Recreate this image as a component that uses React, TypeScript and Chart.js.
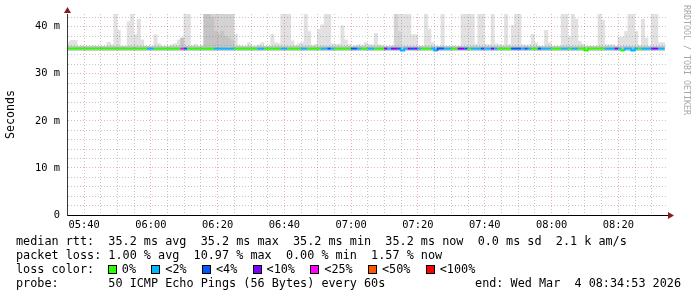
import React, { useEffect, useRef } from 'react';
import { Chart, registerables } from 'chart.js';

Chart.register(...registerables);

// ---- time range (minutes after midnight) ----
const START = 334 + 53 / 60; // 05:34:53
const SPAN = 180; // 3 hours, ends 08:34:53
const X_GRID_STEP = 5;
const TIME_LABELS = ['05:40', '06:00', '06:20', '06:40', '07:00', '07:20', '07:40', '08:00', '08:20'];

// ---- value axis (ms) ----
const Y_MAX = 42.7;
const Y_GRID_STEP = 2;
const Y_LABELS: Record<number, string> = { 0: '0', 10: '10 m', 20: '20 m', 30: '30 m', 40: '40 m' };

// ---- per-minute data ----
const SMOKE_FLOOR = 35.0;

const MEDIAN = [
  35.35, 35.35, 35.35, 35.35, 35.35, 35.35, 35.35, 35.35, 35.35, 35.35,
  35.35, 35.35, 35.35, 35.35, 35.35, 35.35, 35.35, 35.35, 35.35, 35.35,
  35.35, 35.35, 35.35, 35.35, 35.35, 35.35, 35.35, 35.35, 35.35, 35.35,
  35.35, 35.35, 35.35, 35.35, 35.35, 35.35, 35.35, 35.35, 35.35, 35.35,
  35.35, 35.35, 35.35, 35.35, 35.35, 35.35, 35.35, 35.35, 35.35, 35.35,
  35.35, 35.35, 35.35, 35.35, 35.35, 35.35, 35.35, 35.35, 35.35, 35.35,
  35.35, 35.35, 35.35, 35.35, 35.35, 35.35, 35.35, 35.35, 35.35, 35.35,
  35.35, 35.35, 35.35, 35.35, 35.35, 35.35, 35.35, 35.35, 35.35, 35.35,
  35.35, 35.35, 35.35, 35.35, 35.35, 35.35, 35.35, 35.35, 35.35, 35.35,
  35.35, 35.35, 35.35, 35.35, 35.35, 35.35, 35.35, 35.35, 35.35, 35.35,
  35.35, 34.95, 35.35, 35.35, 35.35, 35.35, 35.35, 35.35, 35.35, 35.35,
  35.35, 34.95, 35.35, 35.35, 35.35, 35.35, 35.35, 35.35, 35.35, 35.35,
  35.35, 35.35, 35.35, 35.35, 35.35, 35.35, 35.35, 35.35, 35.35, 35.35,
  35.35, 35.35, 35.35, 35.35, 35.35, 35.35, 35.35, 35.35, 35.35, 35.35,
  35.35, 35.35, 35.35, 35.35, 35.35, 35.35, 35.35, 35.35, 35.35, 35.35,
  35.35, 35.35, 35.35, 35.35, 35.35, 35.35, 34.95, 35.35, 35.35, 35.35,
  35.35, 35.35, 35.35, 35.35, 35.35, 35.35, 35.35, 34.95, 35.35, 35.35,
  34.95, 35.35, 35.35, 35.35, 35.35, 35.35, 35.35, 35.35, 35.35,
];

// loss class per minute: 0=0%, 1=<2%, 2=<4%, 3=<10%, 4=<25%, 5=<50%, 6=<100%
const LOSS = [
  0, 0, 0, 0, 0, 0, 0, 0, 0, 0,
  0, 0, 0, 0, 0, 0, 0, 0, 0, 0,
  0, 0, 0, 0, 1, 1, 0, 0, 0, 0,
  0, 0, 0, 0, 4, 2, 0, 0, 0, 0,
  0, 0, 0, 0, 1, 1, 1, 1, 1, 1,
  0, 0, 0, 0, 0, 0, 0, 1, 1, 0,
  0, 0, 0, 0, 1, 1, 0, 0, 0, 0,
  1, 1, 0, 0, 0, 0, 1, 1, 2, 1,
  0, 0, 0, 0, 0, 2, 2, 1, 0, 0,
  1, 1, 0, 0, 0, 3, 1, 3, 3, 2,
  1, 1, 3, 2, 3, 1, 0, 0, 0, 1,
  1, 2, 2, 1, 1, 0, 0, 3, 3, 2,
  0, 1, 1, 1, 2, 1, 1, 3, 1, 0,
  0, 0, 0, 2, 2, 2, 1, 2, 1, 0,
  0, 2, 1, 1, 1, 0, 0, 0, 1, 1,
  0, 1, 1, 0, 0, 0, 0, 0, 0, 0,
  0, 1, 1, 1, 3, 1, 0, 1, 1, 1,
  1, 0, 1, 1, 1, 3, 3, 1, 1,
];

// highest ping (top of the light smoke)
const SMOKE_MAX = [
  36.8, 37.1, 37.1, 35.8, 35.8, 35.8, 35.8, 35.8, 35.8, 35.8,
  35.8, 35.8, 36.7, 36.2, 43, 39.2, 35.8, 35.8, 41.1, 43,
  38.3, 41.6, 37.2, 35.8, 35.8, 35.8, 38.3, 36.4, 35.8, 35.8,
  35.8, 36.2, 36.4, 37.2, 37.6, 43, 43, 36.0, 36.3, 35.8,
  36.0, 43, 43, 43, 43, 43, 43, 43, 43, 43,
  38.4, 36.0, 35.8, 35.8, 36.6, 35.8, 35.8, 36.2, 36.6, 35.8,
  35.8, 38.4, 36.6, 36.4, 43, 43, 43, 37.0, 36.0, 36.4,
  36.6, 43, 39.0, 36.0, 36.2, 39.4, 40.4, 43, 43, 36.4,
  36.2, 36.3, 40.2, 37.2, 36.2, 35.8, 36.0, 36.2, 36.0, 36.6,
  36.2, 36.2, 38.6, 36.2, 36.0, 35.8, 35.8, 36.0, 43, 43,
  43, 43, 43, 38.3, 38.3, 35.8, 35.8, 43, 39.5, 36.6,
  35.8, 35.8, 43, 35.8, 35.8, 35.8, 35.8, 35.8, 43, 43,
  43, 43, 36.3, 43, 43, 36.2, 36.2, 43, 36.4, 36.2,
  36.0, 43, 36.2, 40.3, 43, 43, 36.2, 36.0, 36.2, 38.4,
  36.6, 35.8, 35.8, 39.2, 36.6, 35.8, 35.8, 35.8, 43, 43,
  37.8, 43, 41.6, 36.9, 36.3, 35.8, 35.8, 35.8, 35.8, 43,
  41.4, 36.2, 36.2, 36.2, 35.8, 37.8, 37.8, 39.0, 43, 43,
  39.0, 36.0, 41.6, 37.6, 35.8, 43, 43, 36.6, 36.6,
];

// middle shade of smoke
const SMOKE_MID = [
  35.8, 35.8, 35.8, 35.8, 35.8, 35.8, 35.8, 35.8, 35.8, 35.8,
  35.8, 35.8, 35.8, 35.8, 35.8, 35.8, 35.8, 35.8, 35.8, 35.8,
  35.8, 35.8, 35.8, 35.8, 35.8, 35.8, 35.8, 35.8, 35.8, 35.8,
  35.8, 35.8, 35.8, 35.8, 35.8, 35.8, 35.8, 35.8, 35.8, 35.8,
  35.8, 43, 43, 43, 43, 43, 43, 43, 43, 43,
  35.8, 35.8, 35.8, 35.8, 35.8, 35.8, 35.8, 35.8, 35.8, 35.8,
  35.8, 35.8, 35.8, 35.8, 35.8, 35.8, 35.8, 35.8, 35.8, 35.8,
  35.8, 35.8, 35.8, 35.8, 35.8, 35.8, 35.8, 35.8, 35.8, 35.8,
  35.8, 35.8, 35.8, 35.8, 35.8, 35.8, 35.8, 35.8, 35.8, 35.8,
  35.8, 35.8, 35.8, 35.8, 35.8, 35.8, 35.8, 35.8, 43, 39,
  35.8, 35.8, 35.8, 35.8, 35.8, 35.8, 35.8, 35.8, 35.8, 35.8,
  35.8, 35.8, 35.8, 35.8, 35.8, 35.8, 35.8, 35.8, 35.8, 35.8,
  35.8, 35.8, 35.8, 35.8, 35.8, 35.8, 35.8, 35.8, 35.8, 35.8,
  35.8, 35.8, 35.8, 35.8, 35.8, 35.8, 35.8, 35.8, 35.8, 35.8,
  35.8, 35.8, 35.8, 35.8, 35.8, 35.8, 35.8, 35.8, 35.8, 35.8,
  35.8, 35.8, 35.8, 35.8, 35.8, 35.8, 35.8, 35.8, 35.8, 35.8,
  35.8, 35.8, 35.8, 35.8, 35.8, 35.8, 35.8, 35.8, 35.8, 35.8,
  35.8, 35.8, 35.8, 35.8, 35.8, 35.8, 35.8, 35.8, 35.8,
];

// densest shade of smoke
const SMOKE_DENSE = [
  35.8, 35.8, 35.8, 35.8, 35.8, 35.8, 35.8, 35.8, 35.8, 35.8,
  35.8, 35.8, 35.8, 35.8, 35.8, 35.8, 35.8, 35.8, 35.8, 35.8,
  35.8, 35.8, 35.8, 35.8, 35.8, 35.8, 35.8, 35.8, 35.8, 35.8,
  35.8, 35.8, 35.8, 35.8, 37.6, 35.8, 35.8, 35.8, 35.8, 35.8,
  35.8, 43, 43, 42, 39, 38.5, 39, 38, 37.5, 37,
  35.8, 35.8, 35.8, 35.8, 35.8, 35.8, 35.8, 35.8, 35.8, 35.8,
  35.8, 35.8, 35.8, 35.8, 35.8, 35.8, 35.8, 35.8, 35.8, 35.8,
  35.8, 35.8, 35.8, 35.8, 35.8, 35.8, 35.8, 35.8, 35.8, 35.8,
  35.8, 35.8, 35.8, 35.8, 35.8, 35.8, 35.8, 35.8, 35.8, 35.8,
  35.8, 35.8, 35.8, 35.8, 35.8, 35.8, 35.8, 35.8, 35.8, 35.8,
  35.8, 35.8, 35.8, 35.8, 35.8, 35.8, 35.8, 35.8, 35.8, 35.8,
  35.8, 35.8, 35.8, 35.8, 35.8, 35.8, 35.8, 35.8, 35.8, 35.8,
  35.8, 35.8, 35.8, 35.8, 35.8, 35.8, 35.8, 35.8, 35.8, 35.8,
  35.8, 35.8, 35.8, 35.8, 35.8, 35.8, 35.8, 35.8, 35.8, 35.8,
  35.8, 35.8, 35.8, 35.8, 35.8, 35.8, 35.8, 35.8, 35.8, 35.8,
  35.8, 35.8, 35.8, 35.8, 35.8, 35.8, 35.8, 35.8, 35.8, 35.8,
  35.8, 35.8, 35.8, 35.8, 35.8, 35.8, 35.8, 35.8, 35.8, 35.8,
  35.8, 35.8, 35.8, 35.8, 35.8, 35.8, 35.8, 35.8, 35.8,
];

const LOSS_COLORS = ['#26ff00', '#00b8ff', '#0059ff', '#7e00ff', '#ff00ff', '#ff5500', '#ff0000'];
const LOSS_LABELS = ['0%', '<2%', '<4%', '<10%', '<25%', '<50%', '<100%'];

const STATS_RTT = 'median rtt:  35.2 ms avg  35.2 ms max  35.2 ms min  35.2 ms now  0.0 ms sd  2.1 k am/s';
const STATS_LOSS = 'packet loss: 1.00 % avg  10.97 % max  0.00 % min  1.57 % now';
const LOSS_TITLE = 'loss color:';
const PROBE_TEXT = 'probe:       50 ICMP Echo Pings (56 Bytes) every 60s';
const END_TEXT = 'end: Wed Mar  4 08:34:53 2026';
const WATERMARK = 'RRDTOOL / TOBI OETIKER';
const Y_TITLE = 'Seconds';

const MONO = '"DejaVu Sans Mono", monospace';
const MAJOR_GRID = 'rgba(225, 80, 80, 0.45)';
const MINOR_GRID = 'rgba(120, 120, 120, 0.42)';

function hhmm(v: number) {
  const m = Math.round(v);
  const h = Math.floor(m / 60);
  const mm = m % 60;
  return String(h).padStart(2, '0') + ':' + String(mm).padStart(2, '0');
}

const arrowPlugin = {
  id: 'rrdArrows',
  afterDraw(chart: any) {
    const { ctx, chartArea: a } = chart;
    ctx.save();
    ctx.fillStyle = '#8a1c1c';
    // y axis arrow
    ctx.beginPath();
    ctx.moveTo(a.left + 0.5, a.top - 7);
    ctx.lineTo(a.left - 3, a.top - 1);
    ctx.lineTo(a.left + 4, a.top - 1);
    ctx.closePath();
    ctx.fill();
    // x axis arrow
    ctx.beginPath();
    ctx.moveTo(a.right + 6, a.bottom + 0.5);
    ctx.lineTo(a.right, a.bottom - 3);
    ctx.lineTo(a.right, a.bottom + 4);
    ctx.closePath();
    ctx.fill();
    ctx.restore();
  },
};

export default function App() {
  const ref = useRef<HTMLCanvasElement>(null);

  useEffect(() => {
    const xTicks: number[] = [];
    for (let v = Math.ceil(START / X_GRID_STEP) * X_GRID_STEP; v < START + SPAN; v += X_GRID_STEP) xTicks.push(v);
    const yTicks: number[] = [];
    for (let v = 0; v < Y_MAX; v += Y_GRID_STEP) yTicks.push(v);

    const smoke = (arr: number[]) => arr.map((v, i) => ({ x: START + i + 0.5, y: [SMOKE_FLOOR, v] }));
    const linePts = MEDIAN.map((v, i) => ({ x: START + i, y: v }));
    linePts.push({ x: START + MEDIAN.length, y: MEDIAN[MEDIAN.length - 1] });

    const barCommon = {
      type: 'bar' as const,
      grouped: false,
      barPercentage: 1,
      categoryPercentage: 1,
      borderWidth: 0,
    };

    const chart = new Chart(ref.current as HTMLCanvasElement, {
      type: 'bar',
      data: {
        datasets: [
          { ...barCommon, label: 'smoke max', data: smoke(SMOKE_MAX) as any, backgroundColor: '#e1e1e1', order: 3 },
          { ...barCommon, label: 'smoke mid', data: smoke(SMOKE_MID) as any, backgroundColor: '#d3d3d3', order: 2 },
          { ...barCommon, label: 'smoke dense', data: smoke(SMOKE_DENSE) as any, backgroundColor: '#c4c4c4', order: 1 },
          {
            type: 'line' as const,
            label: 'median rtt',
            data: linePts as any,
            stepped: 'after',
            borderWidth: 2,
            pointRadius: 0,
            borderCapStyle: 'butt',
            borderColor: LOSS_COLORS[0],
            segment: {
              borderColor: (ctx: any) => LOSS_COLORS[LOSS[Math.min(ctx.p0DataIndex, LOSS.length - 1)]],
            },
            order: 0,
          } as any,
        ],
      },
      options: {
        responsive: false,
        devicePixelRatio: 1,
        animation: false,
        events: [],
        layout: { padding: { left: 0, top: 14, right: 29, bottom: 0 } },
        plugins: { legend: { display: false }, tooltip: { enabled: false } },
        scales: {
          x: {
            type: 'linear',
            offset: false,
            min: START,
            max: START + SPAN,
            afterBuildTicks: (s: any) => {
              s.ticks = xTicks.map((v) => ({ value: v }));
            },
            afterFit: (s: any) => {
              s.height = 82;
            },
            grid: {
              offset: false,
              drawTicks: false,
              z: 1,
              lineWidth: 1,
              color: (c: any) => (c.tick && TIME_LABELS.includes(hhmm(c.tick.value)) ? MAJOR_GRID : MINOR_GRID),
            },
            border: { display: true, color: '#000', width: 1, dash: [1, 2], z: 2 },
            ticks: {
              autoSkip: false,
              maxRotation: 0,
              minRotation: 0,
              padding: 4,
              color: '#000',
              font: { family: MONO, size: 10.4 },
              callback: (v: any) => {
                const s = hhmm(Number(v));
                return TIME_LABELS.includes(s) ? s : '';
              },
            },
          },
          y: {
            type: 'linear',
            min: 0,
            max: Y_MAX,
            afterBuildTicks: (s: any) => {
              s.ticks = yTicks.map((v) => ({ value: v }));
            },
            afterFit: (s: any) => {
              s.width = 67;
            },
            grid: {
              drawTicks: false,
              z: 1,
              lineWidth: 1,
              color: (c: any) => {
                if (!c.tick || c.tick.value === 0) return 'rgba(0,0,0,0)';
                return c.tick.value % 10 === 0 ? MAJOR_GRID : MINOR_GRID;
              },
            },
            border: { display: true, color: '#3a3a3a', width: 1, dash: [1, 2], z: 2 },
            ticks: {
              autoSkip: false,
              padding: 7,
              color: '#000',
              font: { family: MONO, size: 10.4 },
              callback: (v: any) => Y_LABELS[Number(v)] ?? '',
            },
            title: {
              display: true,
              text: Y_TITLE,
              color: '#000',
              font: { family: MONO, size: 11.6 },
              padding: { top: 4, bottom: 0 },
            },
          },
        },
      } as any,
      plugins: [arrowPlugin],
    });
    return () => chart.destroy();
  }, []);

  const row = (top: number): React.CSSProperties => ({
    position: 'absolute',
    left: 16,
    top,
    height: 14,
    lineHeight: '14px',
    fontSize: 11.8,
    fontFamily: MONO,
    whiteSpace: 'pre',
    color: '#000',
  });

  return (
    <div style={{ position: 'fixed', left: 0, top: 0, width: 697, height: 297, background: '#fff', overflow: 'hidden' }}>
      <canvas ref={ref} width={697} height={297} style={{ position: 'absolute', left: 0, top: 0, width: 697, height: 297 }} />
      <div
        style={{
          position: 'absolute',
          left: 682,
          top: 5,
          writingMode: 'vertical-rl',
          fontSize: 8.3,
          lineHeight: '10px',
          fontFamily: MONO,
          color: '#a8a8a8',
          whiteSpace: 'pre',
        }}
      >
        {WATERMARK}
      </div>
      <div style={row(234)}>{STATS_RTT}</div>
      <div style={row(248)}>{STATS_LOSS}</div>
      <div style={{ ...row(262), display: 'flex', alignItems: 'center' }}>
        <span>{LOSS_TITLE}</span>
        {LOSS_LABELS.map((l, i) => (
          <React.Fragment key={l}>
            <span
              style={{
                display: 'inline-block',
                boxSizing: 'border-box',
                width: 9,
                height: 9,
                border: '1px solid #000',
                background: LOSS_COLORS[i],
                marginLeft: i === 0 ? 13.7 : 15.3,
                marginRight: 5,
              }}
            />
            <span>{l}</span>
          </React.Fragment>
        ))}
      </div>
      <div style={row(276)}>{PROBE_TEXT}</div>
      <div style={{ ...row(276), left: 'auto', right: 16 }}>{END_TEXT}</div>
    </div>
  );
}
